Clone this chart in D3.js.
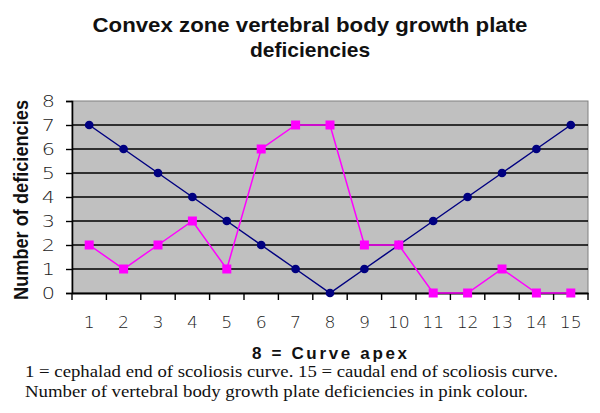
<!DOCTYPE html>
<html>
<head>
<meta charset="utf-8">
<script src="https://cdn.jsdelivr.net/npm/d3@7"></script>
<style>
  html, body { margin: 0; padding: 0; background: #fff; }
  svg { display: block; }
</style>
</head>
<body>
<div id="chart"></div>
<script>
// ---- data ----
const categories = ["1","2","3","4","5","6","7","8","9","10","11","12","13","14","15"];
const blueValues = [7,6,5,4,3,2,1,0,1,2,3,4,5,6,7];
const pinkValues = [2,1,2,3,1,6,7,7,2,2,0,0,1,0,0];
const yTicks = [0,1,2,3,4,5,6,7,8];
const titleLines = ["Convex zone vertebral body growth plate", "deficiencies"];
const yTitle = "Number of deficiencies";
const xTitle = "8 = Curve apex";
const notes = ["1 = cephalad end of scoliosis curve. 15 = caudal end of scoliosis curve.",
               "Number of vertebral body growth plate deficiencies in pink colour."];

const W = 600, H = 413;
const plot = {left: 72, right: 588, top: 101, bottom: 293};

const svg = d3.select("#chart").append("svg").attr("width", W).attr("height", H);

const x = d3.scaleBand().domain(categories).range([plot.left, plot.right]).padding(0);
const y = d3.scaleLinear().domain([0, 8]).range([plot.bottom, plot.top]);

// background
svg.append("rect")
  .attr("x", plot.left).attr("y", plot.top)
  .attr("width", plot.right - plot.left).attr("height", plot.bottom - plot.top)
  .attr("fill", "#c0c0c0").attr("stroke", "#808080").attr("stroke-width", 1);

// gridlines
svg.append("g").selectAll("line")
  .data(yTicks.filter(d => d > 0 && d < 8))
  .join("line")
  .attr("x1", plot.left).attr("x2", plot.right)
  .attr("y1", d => y(d)).attr("y2", d => y(d))
  .attr("stroke", "#000").attr("stroke-width", 1.6);

// y axis
const yAxis = svg.append("g").attr("transform", `translate(${plot.left},0)`)
  .call(d3.axisLeft(y).tickValues(yTicks).tickSize(6).tickFormat(""));
yAxis.select(".domain").attr("stroke", "#000").attr("stroke-width", 1.6);
yAxis.selectAll(".tick line").attr("stroke", "#000").attr("stroke-width", 1.4);

// y tick labels (wide, light)
svg.append("g").selectAll("text")
  .data(yTicks)
  .join("text")
  .attr("transform", d => `translate(55,${y(d)}) scale(1.3,1)`)
  .attr("text-anchor", "end")
  .attr("dy", "0.36em")
  .attr("font-family", "'DejaVu Sans', sans-serif")
  .attr("font-size", 16)
  .attr("font-weight", 300)
  .attr("fill", "#222")
  .text(d => d);

// x axis
const xAxis = svg.append("g").attr("transform", `translate(0,${plot.bottom})`)
  .call(d3.axisBottom(x).tickSize(0).tickFormat(""));
xAxis.select(".domain").attr("stroke", "#000").attr("stroke-width", 2);
xAxis.selectAll(".tick").remove();
// x tick marks at band boundaries
const bounds = categories.map(c => x(c)).concat([x(categories[categories.length - 1]) + x.bandwidth()]);
svg.append("g").selectAll("line")
  .data(bounds)
  .join("line")
  .attr("x1", d => d).attr("x2", d => d)
  .attr("y1", plot.bottom).attr("y2", plot.bottom + 7)
  .attr("stroke", "#000").attr("stroke-width", 1.4);

// x tick labels
svg.append("g").selectAll("text")
  .data(categories)
  .join("text")
  .attr("transform", d => `translate(${x(d) + x.bandwidth() / 2},328) scale(1.15,1)`)
  .attr("text-anchor", "middle")
  .attr("font-family", "'DejaVu Sans', sans-serif")
  .attr("font-size", 15)
  .attr("font-weight", 300)
  .attr("fill", "#222")
  .text(d => d);

const cx = d => x(d) + x.bandwidth() / 2;

// blue series
const blueData = categories.map((c, i) => ({c, v: blueValues[i]}));
svg.append("path")
  .datum(blueData)
  .attr("fill", "none").attr("stroke", "#000080").attr("stroke-width", 1.5)
  .attr("d", d3.line().x(d => cx(d.c)).y(d => y(d.v)));
svg.append("g").selectAll("path")
  .data(blueData)
  .join("path")
  .attr("transform", d => `translate(${cx(d.c)},${y(d.v)})`)
  .attr("d", d3.symbol().type(d3.symbolCircle).size(60))
  .attr("fill", "#000080");

// pink series
const pinkData = categories.map((c, i) => ({c, v: pinkValues[i]}));
svg.append("path")
  .datum(pinkData)
  .attr("fill", "none").attr("stroke", "#ff00ff").attr("stroke-width", 1.5)
  .attr("d", d3.line().x(d => cx(d.c)).y(d => y(d.v)));
svg.append("g").selectAll("rect")
  .data(pinkData)
  .join("rect")
  .attr("x", d => cx(d.c) - 4.5).attr("y", d => y(d.v) - 4.5)
  .attr("width", 9).attr("height", 9)
  .attr("fill", "#ff00ff");

// title
const titleLen = [435, null];
svg.append("g").selectAll("text")
  .data(titleLines)
  .join("text")
  .attr("x", 310).attr("y", (d, i) => 32 + i * 25)
  .attr("text-anchor", "middle")
  .attr("font-family", "'Liberation Sans', Arial, sans-serif")
  .attr("font-size", 21).attr("font-weight", "bold")
  .attr("textLength", (d, i) => titleLen[i])
  .attr("lengthAdjust", "spacingAndGlyphs")
  .attr("fill", "#111")
  .text(d => d);

// y title
svg.append("text")
  .attr("transform", "translate(28,200) rotate(-90)")
  .attr("text-anchor", "middle")
  .attr("font-family", "'Liberation Sans', Arial, sans-serif")
  .attr("font-size", 20).attr("font-weight", "bold")
  .attr("textLength", 200).attr("lengthAdjust", "spacingAndGlyphs")
  .attr("fill", "#111")
  .text(yTitle);

// x title
svg.append("text")
  .attr("x", 252).attr("y", 359)
  .attr("font-family", "'Liberation Sans', Arial, sans-serif")
  .attr("font-size", 17).attr("font-weight", "bold")
  .attr("textLength", 155).attr("lengthAdjust", "spacing")
  .attr("fill", "#111")
  .text(xTitle);

// notes
const noteLen = [533, 503];
svg.append("g").selectAll("text")
  .data(notes)
  .join("text")
  .attr("x", 25).attr("y", (d, i) => 377 + i * 20)
  .attr("font-family", "'Liberation Serif', 'Times New Roman', serif")
  .attr("font-size", 16)
  .attr("textLength", (d, i) => noteLen[i]).attr("lengthAdjust", "spacingAndGlyphs")
  .attr("fill", "#111")
  .text(d => d);
</script>
</body>
</html>
